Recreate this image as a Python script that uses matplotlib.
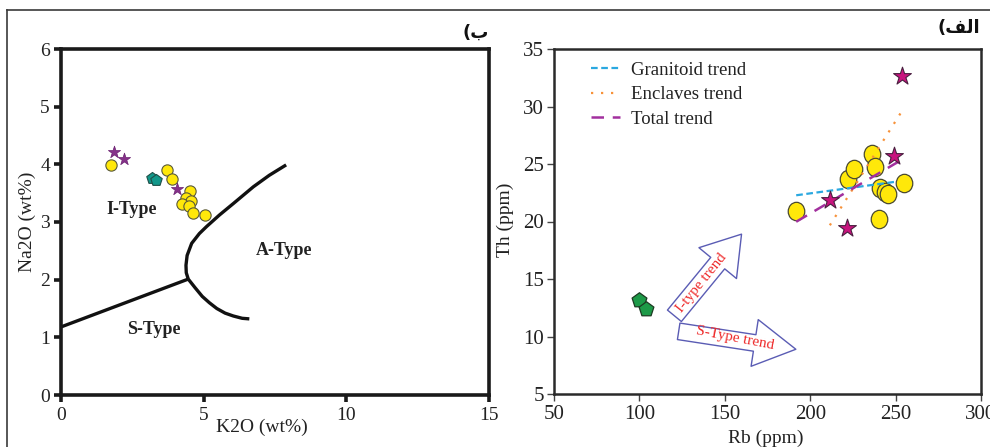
import matplotlib
matplotlib.use("Agg")
import matplotlib.pyplot as plt
from matplotlib.lines import Line2D
from matplotlib.path import Path
from matplotlib.transforms import Affine2D

plt.rcParams['font.family'] = ['Liberation Serif', 'DejaVu Serif']

# ---------------- data: left panel (K2O vs Na2O) ----------------
k2o_granitoid = [1.75, 3.70, 3.90, 4.53, 4.38, 4.56, 4.25, 4.49, 4.64, 5.04]
na2o_granitoid = [3.98, 3.90, 3.75, 3.54, 3.41, 3.36, 3.32, 3.28, 3.16, 3.12]
k2o_enclave = [1.86, 2.22, 4.05]
na2o_enclave = [4.22, 4.09, 3.57]
k2o_pent = [3.18, 3.32]
na2o_pent = [3.77, 3.72]

# classification boundaries
s_line_k2o = [0.0, 4.46]
s_line_na2o = [1.18, 2.01]
a_upper_k2o = [4.46, 4.39, 4.38, 4.42, 4.58, 4.85, 5.10, 5.55, 6.04, 6.74, 7.30, 7.89]
a_upper_na2o = [2.01, 2.12, 2.25, 2.42, 2.63, 2.80, 2.92, 3.12, 3.32, 3.61, 3.81, 3.99]
a_lower_k2o = [4.46, 4.70, 4.95, 5.20, 5.46, 5.75, 6.04, 6.35, 6.60]
a_lower_na2o = [2.01, 1.86, 1.71, 1.60, 1.50, 1.42, 1.37, 1.33, 1.32]

left_xticks = [0, 5, 10, 15]
left_yticks = [0, 1, 2, 3, 4, 5, 6]

# ---------------- data: right panel (Rb vs Th) ----------------
rb_granitoid = [191.8, 221.9, 225.6, 236.3, 237.9, 240.8, 243.7, 245.7, 255.0, 240.2]
th_granitoid = [20.94, 23.72, 24.54, 25.84, 24.77, 22.94, 22.59, 22.36, 23.35, 20.22]
rb_enclave = [253.7, 249.0, 211.7, 221.5]
th_enclave = [32.63, 25.70, 21.90, 19.46]
rb_pent = [99.6, 104.1]
th_pent = [13.20, 12.36]

granitoid_trend_rb = [191.8, 250.2]
granitoid_trend_th = [22.28, 23.46]
enclaves_trend_rb = [211.5, 253.1]
enclaves_trend_th = [19.67, 29.46]
total_trend_rb = [191.8, 255.0]
total_trend_th = [19.98, 25.49]

itype_arrow_tail = (120.5, 11.8)
itype_arrow_tip = (159.8, 18.9)
stype_arrow_tail = (123.0, 10.45)
stype_arrow_tip = (191.6, 8.89)

right_xticks = [50, 100, 150, 200, 250, 300]
right_yticks = [5, 10, 15, 20, 25, 30, 35]

W, H = 990, 447
fig = plt.figure(figsize=(W / 100, H / 100), dpi=100)

def ax_rect(x0, y0, x1, y1):
    return [x0 / W, 1 - y1 / H, (x1 - x0) / W, (y1 - y0) / H]

# slightly tall oval marker
oval = Path.unit_circle().transformed(Affine2D().scale(0.9, 1.0))

# outer frame lines
frame_col = '#3a3a3a'
fig.add_artist(Line2D([7 / W, 7 / W], [0, 1 - 10 / H], color=frame_col, lw=1.2, transform=fig.transFigure))
fig.add_artist(Line2D([7 / W, 1], [1 - 10 / H, 1 - 10 / H], color=frame_col, lw=1.2, transform=fig.transFigure))

# ================= left panel =================
axL = fig.add_axes(ax_rect(61, 49, 489, 395))
axL.set_xlim(0, 15)
axL.set_ylim(0, 6)
for sp in axL.spines.values():
    sp.set_linewidth(2.6)
    sp.set_color('#1a1a1a')
axL.set_xticks(left_xticks)
axL.set_yticks(left_yticks)
axL.tick_params(direction='out', length=5, width=2.6, color='#1a1a1a',
                labelsize=14, pad=3, labelcolor='#222222')
axL.tick_params(axis='x', pad=4)

axL.plot(s_line_k2o, s_line_na2o, color='#111111', lw=2.4, solid_capstyle='butt')
axL.plot(a_upper_k2o, a_upper_na2o, color='#111111', lw=2.4, solid_capstyle='butt')
axL.plot(a_lower_k2o, a_lower_na2o, color='#111111', lw=2.4, solid_capstyle='butt')

axL.scatter(k2o_granitoid, na2o_granitoid, s=66, marker='o', facecolor='#FFE80A',
            edgecolor='#5a5a3a', linewidth=0.8, zorder=4)
axL.scatter(k2o_enclave, na2o_enclave, s=85, marker='*', facecolor='#86328A',
            edgecolor='#6a2070', linewidth=0.5, zorder=4)
axL.scatter(k2o_pent, na2o_pent, s=75, marker='p', facecolor='#12978A',
            edgecolor='#1f4f48', linewidth=0.8, zorder=4)

axL.text(2.48, 3.21, 'I-Type', fontsize=13, fontweight='bold', ha='center', va='center', color='#222222')
axL.text(7.83, 2.50, 'A-Type', fontsize=13, fontweight='bold', ha='center', va='center', color='#222222')
axL.text(3.26, 1.13, 'S-Type', fontsize=13, fontweight='bold', ha='center', va='center', color='#222222')

axL.set_xlabel('K2O (wt%)', fontsize=14, color='#222222')
axL.xaxis.set_label_coords(0.47, (395 - 427) / 346)
axL.xaxis.label.set_va('center')
axL.set_ylabel('Na2O (wt%)', fontsize=14, color='#222222')
axL.yaxis.set_label_coords((27 - 61) / 428, 0.5)
axL.yaxis.label.set_va('center')

# panel label (Persian "b)")
fig.text(489 / W, 1 - 33 / H, '(\u0628', fontsize=13, fontweight='bold', family=['DejaVu Sans'],
         ha='right', va='center', color='#111111')

# ================= right panel =================
axR = fig.add_axes(ax_rect(554, 49, 981, 394))
axR.set_xlim(50, 300)
axR.set_ylim(5, 35)
for sp in axR.spines.values():
    sp.set_linewidth(1.8)
    sp.set_color('#2a2a2a')
axR.set_xticks(right_xticks)
axR.set_yticks(right_yticks)
axR.tick_params(direction='out', length=5, width=1.0, color='#444444',
                labelsize=15, pad=2, labelcolor='#222222')
axR.tick_params(axis='x', pad=3)

axR.scatter(rb_granitoid, th_granitoid, s=175, marker=oval, facecolor='#FFE80A',
            edgecolor='#4a4a30', linewidth=0.9, zorder=2)
axR.plot(granitoid_trend_rb, granitoid_trend_th, color='#2AA8E0', lw=1.6,
         dashes=(3, 1.6), zorder=3, label='Granitoid trend')
axR.plot(enclaves_trend_rb, enclaves_trend_th, color='#F7923A', lw=1.6,
         dashes=(1, 3.5), zorder=3, label='Enclaves trend')
axR.plot(total_trend_rb, total_trend_th, color='#A2309E', lw=1.8,
         dashes=(5, 3.5), zorder=3, label='Total trend')
axR.scatter(rb_enclave, th_enclave, s=180, marker='*', facecolor='#C8137E',
            edgecolor='#4a2040', linewidth=0.8, zorder=4)
axR.scatter(rb_pent, th_pent, s=125, marker='p', facecolor='#1D9A48',
            edgecolor='#1c3a22', linewidth=0.9, zorder=4)

leg = axR.legend(loc='upper left', bbox_to_anchor=(0.07, 0.985), frameon=False,
                 fontsize=13.5, handlelength=1.5, handletextpad=0.6, labelspacing=0.4,
                 borderaxespad=0)
for t in leg.get_texts():
    t.set_color('#222222')

arrow_col = '#5A5CB4'
axR.annotate('', xy=itype_arrow_tip, xytext=itype_arrow_tail,
             arrowprops=dict(arrowstyle='simple,head_length=27,head_width=35,tail_width=13',
                             mutation_scale=1, fc='white', ec=arrow_col, lw=1.0,
                             shrinkA=0, shrinkB=0), zorder=3)
axR.annotate('', xy=stype_arrow_tip, xytext=stype_arrow_tail,
             arrowprops=dict(arrowstyle='simple,head_length=30,head_width=34,tail_width=12',
                             mutation_scale=1, fc='white', ec=arrow_col, lw=1.0,
                             shrinkA=0, shrinkB=0), zorder=3)
axR.text(136.4, 14.63, 'I-type trend', color='#EE2A2A', fontsize=11, rotation=51,
         ha='center', va='center', rotation_mode='anchor', zorder=5)
axR.text(155.9, 9.84, 'S-Type trend', color='#EE2A2A', fontsize=11, rotation=-11,
         ha='center', va='center', rotation_mode='anchor', zorder=5)

axR.set_xlabel('Rb (ppm)', fontsize=14, color='#222222')
axR.xaxis.set_label_coords((766 - 554) / 427, (394 - 438) / 345)
axR.xaxis.label.set_va('center')
axR.set_ylabel('Th (ppm)', fontsize=14, color='#222222')
axR.yaxis.set_label_coords((505 - 554) / 427, (394 - 220) / 345)
axR.yaxis.label.set_va('center')

# panel label (Persian "alef)")
fig.text(980 / W, 1 - 28 / H, '(\uFED2\uFEDF\uFE8D', fontsize=13, fontweight='bold',
         family=['DejaVu Sans'], ha='right', va='center', color='#111111')

fig.savefig('out.png', dpi=100)
